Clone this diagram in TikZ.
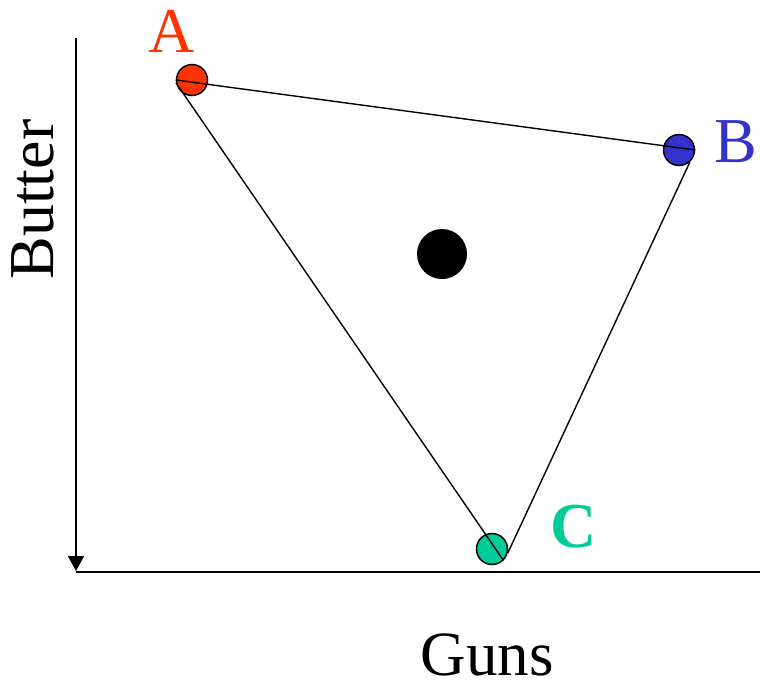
\documentclass[tikz,border=0pt]{standalone}
\usepackage{fontspec}
\setmainfont{Liberation Serif}
\usetikzlibrary{arrows.meta}
\definecolor{cA}{HTML}{FF3300}
\definecolor{cB}{HTML}{3333CC}
\definecolor{cC}{HTML}{00CC99}
\begin{document}
\begin{tikzpicture}[x=1pt,y=-1pt,
  pt/.style={circle,draw=black,line width=1.5pt,minimum size=31pt,inner sep=0pt},
  lbl/.style={font=\fontsize{64}{64}\selectfont,anchor=base,inner sep=0pt},
  edge/.style={line width=1.4pt}]
\useasboundingbox (0,0) rectangle (760,683);
% axes
\coordinate (ytop) at (76,38);
\coordinate (ybot) at (76,571);
\coordinate (xl) at (76,572);
\coordinate (xr) at (760,572);
\draw[line width=1.5pt,-{Triangle[width=16pt,length=15pt]}] (ytop) -- (ybot);
\draw[line width=1.6pt] (xl) -- (xr);
% points
\node[pt,fill=cA] (A) at (192,80) {};
\node[pt,fill=cB] (B) at (679,150) {};
\node[pt,fill=cC] (C) at (492,549) {};
\node[circle,fill=black,minimum size=50pt,inner sep=0pt] (D) at (442,254) {};
% triangle edges
\draw[edge] (A.west) -- (B.east);
\draw[edge] (A.190) -- (C.south east);
\draw[edge] (B.-48) -- (C.-15);
% labels
\node[lbl,text=cA] (la) at (171.5,52) {A};
\node[lbl,text=cB] (lb) at (736,162) {B};
\node[lbl,text=cC,font=\fontsize{64}{64}\selectfont\bfseries] (lc) at (573.5,547) {C};
\node[lbl,rotate=90] (butter) at (53,199.5) {Butter};
\node[lbl,font=\fontsize{63}{63}\selectfont] (guns) at (487.5,675) {Guns};
\end{tikzpicture}
\end{document}
